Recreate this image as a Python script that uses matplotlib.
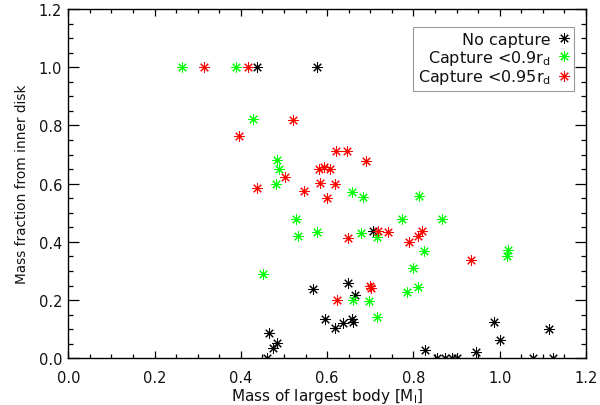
import matplotlib
matplotlib.use("Agg")
import matplotlib.pyplot as plt
from matplotlib.ticker import MultipleLocator, FormatStrFormatter

# No capture (black)
nocap_x = [0.437, 0.577, 0.706, 0.567, 0.649, 0.665, 0.595, 0.619, 0.637, 0.657,
           0.659, 0.466, 0.483, 0.474, 0.461, 0.827, 0.854, 0.873, 0.889, 0.900,
           0.944, 0.987, 1.001, 1.115, 1.076, 1.123]
nocap_y = [1.0, 1.0, 0.436, 0.238, 0.258, 0.218, 0.135, 0.103, 0.121, 0.135,
           0.124, 0.087, 0.053, 0.034, 0.0, 0.030, 0.0, 0.0, 0.0, 0.0,
           0.020, 0.124, 0.064, 0.100, 0.0, 0.0]

# Capture < 0.9 r_d (green)
cap90_x = [0.264, 0.388, 0.427, 0.484, 0.489, 0.481, 0.528, 0.532, 0.577, 0.452,
           0.657, 0.684, 0.813, 0.774, 0.867, 0.678, 0.715, 0.825, 1.020, 1.016,
           0.798, 0.786, 0.811, 0.659, 0.697, 0.715]
cap90_y = [1.0, 1.0, 0.823, 0.681, 0.650, 0.599, 0.479, 0.419, 0.433, 0.289,
           0.570, 0.553, 0.559, 0.479, 0.479, 0.430, 0.418, 0.367, 0.372, 0.350,
           0.309, 0.227, 0.244, 0.201, 0.196, 0.143]

# Capture < 0.95 r_d (red)
cap95_x = [0.315, 0.416, 0.522, 0.396, 0.437, 0.502, 0.546, 0.580, 0.593, 0.607,
           0.583, 0.599, 0.620, 0.647, 0.690, 0.618, 0.649, 0.719, 0.742, 0.790,
           0.811, 0.819, 0.699, 0.701, 0.622, 0.933]
cap95_y = [1.0, 1.0, 0.820, 0.765, 0.584, 0.624, 0.574, 0.650, 0.658, 0.650,
           0.601, 0.551, 0.711, 0.713, 0.679, 0.599, 0.413, 0.436, 0.433, 0.401,
           0.419, 0.436, 0.249, 0.240, 0.200, 0.339]

labels = ["No capture", r"Capture <0.9r$_\mathregular{d}$", r"Capture <0.95r$_\mathregular{d}$"]
colors = ["#000000", "#00ff00", "#ff0000"]

plt.rcParams["font.family"] = ["DejaVu Sans"]
plt.rcParams["mathtext.default"] = "regular"

fig = plt.figure(figsize=(6.0, 4.06), dpi=100)
ax = fig.add_axes([0.1138, 0.115, 0.8629, 0.8604])

mk = (8, 2, 0)
for xs, ys, c, lab in [(nocap_x, nocap_y, colors[0], labels[0]),
                       (cap90_x, cap90_y, colors[1], labels[1]),
                       (cap95_x, cap95_y, colors[2], labels[2])]:
    ax.plot(xs, ys, linestyle="none", marker=mk, markersize=7.5,
            markeredgewidth=0.75, color=c, label=lab)

ax.set_xlim(0, 1.2)
ax.set_ylim(0, 1.2)
ax.xaxis.set_major_locator(MultipleLocator(0.2))
ax.xaxis.set_minor_locator(MultipleLocator(0.05))
ax.yaxis.set_major_locator(MultipleLocator(0.2))
ax.yaxis.set_minor_locator(MultipleLocator(0.05))
ax.xaxis.set_major_formatter(FormatStrFormatter("%.1f"))
ax.yaxis.set_major_formatter(FormatStrFormatter("%.1f"))

ax.tick_params(axis="both", which="both", direction="in", top=True, right=True,
               labelsize=10.5, width=0.9, colors="#000000", labelcolor="#111111")
ax.tick_params(axis="x", which="major", length=5, pad=8.5)
ax.tick_params(axis="x", which="minor", length=2.7)
ax.tick_params(axis="y", which="major", length=8, pad=4.5)
ax.tick_params(axis="y", which="minor", length=3.8)
for s in ax.spines.values():
    s.set_linewidth(1.0)

ax.set_xlabel(r"Mass of largest body [M$_\mathregular{I}$]", fontsize=11,
              labelpad=0.5, color="#111111")
ax.set_ylabel("Mass fraction from inner disk", fontsize=9.8, labelpad=7,
              color="#111111")

leg = ax.legend(loc="upper right", bbox_to_anchor=(0.9768, 0.9485), markerfirst=False,
                prop={"size": 11.5}, frameon=True, fancybox=False, handlelength=0.6,
                handletextpad=0.55, borderpad=0.3, labelspacing=0.05, borderaxespad=0)
leg.get_frame().set_edgecolor("#808080")
leg.get_frame().set_linewidth(0.8)
for t in leg.get_texts():
    t.set_color("#111111")

fig.savefig("out.png", dpi=100)
